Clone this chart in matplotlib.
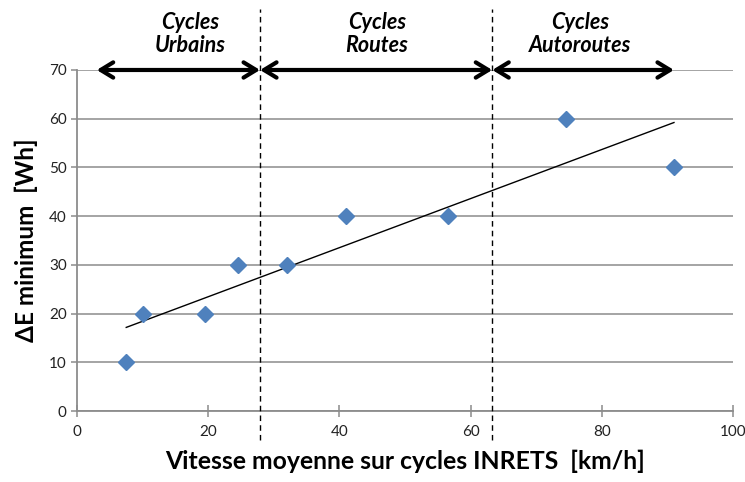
import numpy as np
import matplotlib
matplotlib.use("Agg")
import matplotlib.pyplot as plt

# Average speed on INRETS cycles vs minimum energy delta
speed_kmh = [7.5, 10, 19.5, 24.5, 32, 41, 56.5, 74.5, 91]
delta_e_wh = [10, 20, 20, 30, 30, 40, 40, 60, 50]

# Cycle-family boundaries and arrow spans (km/h)
boundaries = [27.9, 63.3]
zones = [
    ("Cycles\nUrbains", 3.0, 27.9),
    ("Cycles\nRoutes", 27.9, 63.3),
    ("Cycles\nAutoroutes", 63.3, 91.0),
]
zone_label_x = [17.2, 45.7, 76.7]

plt.rcParams['font.family'] = ['Lato', 'DejaVu Sans']

fig = plt.figure(figsize=(7.45, 4.82), dpi=100)
ax = fig.add_axes([0.1034, 0.1473, 0.8805, 0.7075])

grid_color = '#8c8c8c'
ax.set_xlim(0, 100)
ax.set_ylim(0, 70)
ax.set_xticks(np.arange(0, 101, 20))
ax.set_yticks(np.arange(0, 71, 10))
ax.yaxis.grid(True, color=grid_color, linewidth=1.1)
ax.set_axisbelow(True)
for side in ['top', 'right']:
    ax.spines[side].set_visible(False)
for side in ['left', 'bottom']:
    ax.spines[side].set_color(grid_color)
    ax.spines[side].set_linewidth(1.3)
ax.tick_params(axis='x', direction='inout', length=8, color=grid_color, width=1.1,
               labelsize=11, pad=6, labelcolor='#222222')
ax.tick_params(axis='y', direction='out', length=4, color=grid_color, width=1.1,
               labelsize=11, labelcolor='#222222')

# Linear trend line over the measured span
coef = np.polyfit(speed_kmh, delta_e_wh, 1)
xs = np.array([min(speed_kmh), max(speed_kmh)])
ax.plot(xs, np.polyval(coef, xs), color='black', linewidth=1.0, zorder=3)

ax.plot(speed_kmh, delta_e_wh, linestyle='none', marker='D', markersize=8,
        color='#4f81bd', zorder=4, clip_on=False)

for b in boundaries:
    ax.axvline(b, ymin=-0.085, ymax=1.18, color='black', linestyle=(0, (4, 3)),
               linewidth=1.0, clip_on=False, zorder=5)

for (label, x0, x1), lx in zip(zones, zone_label_x):
    ax.annotate('', xy=(x1, 70), xytext=(x0, 70),
                arrowprops=dict(arrowstyle='<->,head_length=0.9,head_width=0.55',
                                lw=3.0, color='black', shrinkA=0, shrinkB=0),
                annotation_clip=False, zorder=6)
    ax.text(lx, 77.4, label, ha='center', va='center', fontsize=15.5,
            fontweight='bold', fontstyle='italic', linespacing=1.1, clip_on=False)

ax.set_xlabel('Vitesse moyenne sur cycles INRETS  [km/h]', fontsize=17.8,
              fontweight='bold', labelpad=8)
ax.set_ylabel('ΔE minimum  [Wh]', fontsize=17.5, fontweight='bold', labelpad=8)

fig.savefig('out.png', dpi=100)
